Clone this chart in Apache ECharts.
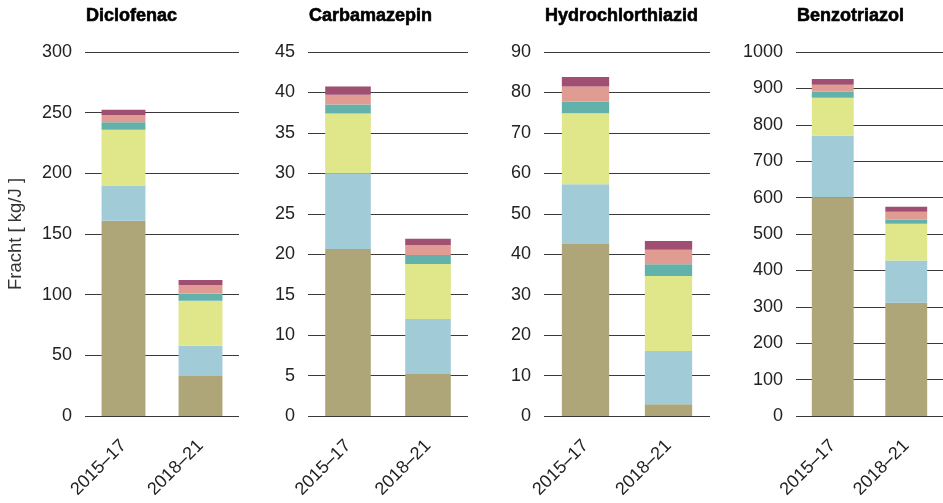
<!DOCTYPE html>
<html>
<head>
<meta charset="utf-8">
<script src="https://cdn.jsdelivr.net/npm/echarts@6/dist/echarts.min.js"></script>
<style>
  html, body { margin: 0; padding: 0; background: #fff; }
  #chart { width: 943px; height: 503px; }
</style>
</head>
<body>
<div id="chart"></div>
<script>
// Zeiträume
const periods = ['2015–17', '2018–21'];

// Stoffe mit Achsenbereich
const substances = ['Diclofenac', 'Carbamazepin', 'Hydrochlorthiazid', 'Benzotriazol'];
const axisMax = [300, 45, 90, 1000];
const axisStep = [50, 5, 10, 100];

// Frachtanteile je Stoff, von unten nach oben gestapelt [Anteil 1..6]
const diclofenac_2015_17 = [161, 29, 46, 6, 6, 4.5];
const diclofenac_2018_21 = [33, 25, 37, 6, 7, 4];
const carbamazepin_2015_17 = [20.65, 9.35, 7.4, 1.1, 1.2, 1.05];
const carbamazepin_2018_21 = [5.2, 6.8, 6.8, 1.1, 1.2, 0.8];
const hydrochlorthiazid_2015_17 = [42.5, 14.8, 17.55, 2.85, 3.8, 2.3];
const hydrochlorthiazid_2018_21 = [2.9, 13.2, 18.5, 2.9, 3.6, 2.2];
const benzotriazol_2015_17 = [600, 170, 104, 17, 19, 16];
const benzotriazol_2018_21 = [311, 116, 101, 11, 22, 14];

const valuesBySubstance = [
  [diclofenac_2015_17, diclofenac_2018_21],
  [carbamazepin_2015_17, carbamazepin_2018_21],
  [hydrochlorthiazid_2015_17, hydrochlorthiazid_2018_21],
  [benzotriazol_2015_17, benzotriazol_2018_21]
];

const partNames = ['Anteil 1', 'Anteil 2', 'Anteil 3', 'Anteil 4', 'Anteil 5', 'Anteil 6'];
const partColors = ['#aea578', '#a2cbd8', '#dfe78a', '#62b1aa', '#e09c93', '#a04f73'];

// Plotbereiche der vier Teildiagramme
const gridBoxes = [
  { left: 85, right: 943 - 239 },
  { left: 308, right: 943 - 468 },
  { left: 544, right: 943 - 710 },
  { left: 796, right: 0 }
];

const font = 'Liberation Sans, Arial, Helvetica, sans-serif';

const grids = [], xAxes = [], yAxes = [], titles = [], series = [];
substances.forEach((name, i) => {
  grids.push({ left: gridBoxes[i].left, right: gridBoxes[i].right, top: 52, bottom: 87 });
  titles.push({
    text: name, left: gridBoxes[i].left + 1, top: 7, padding: 0,
    textStyle: {
      fontFamily: font, fontWeight: 'bold', fontSize: 18, color: '#000',
      textBorderColor: '#000', textBorderWidth: 0.6
    }
  });
  xAxes.push({
    type: 'category', gridIndex: i, data: periods,
    axisLine: { show: false }, axisTick: { show: false },
    axisLabel: { rotate: 45, margin: 27, fontSize: 18, color: '#222', fontFamily: font, interval: 0 }
  });
  yAxes.push({
    type: 'value', gridIndex: i, min: 0, max: axisMax[i], interval: axisStep[i],
    axisLine: { show: false }, axisTick: { show: false },
    axisLabel: { fontSize: 18, color: '#222', fontFamily: font, margin: 13, formatter: v => String(v) },
    splitLine: { lineStyle: { color: '#3a3a3a', width: 1.2 } },
    name: i === 0 ? 'Fracht [ kg/J ]' : '',
    nameLocation: 'middle', nameGap: 60, nameRotate: 90,
    nameTextStyle: { fontSize: 18.5, color: '#333', fontFamily: font }
  });
  partNames.forEach((part, k) => {
    series.push({
      type: 'bar', name: part, xAxisIndex: i, yAxisIndex: i,
      stack: 'stack' + i, barWidth: '57%',
      itemStyle: { color: partColors[k] },
      data: valuesBySubstance[i].map(v => v[k]),
      silent: true
    });
  });
});

const chart = echarts.init(document.getElementById('chart'), null, { renderer: 'canvas' });
chart.setOption({
  animation: false,
  backgroundColor: '#fff',
  title: titles,
  grid: grids,
  xAxis: xAxes,
  yAxis: yAxes,
  series: series
});
</script>
</body>
</html>
